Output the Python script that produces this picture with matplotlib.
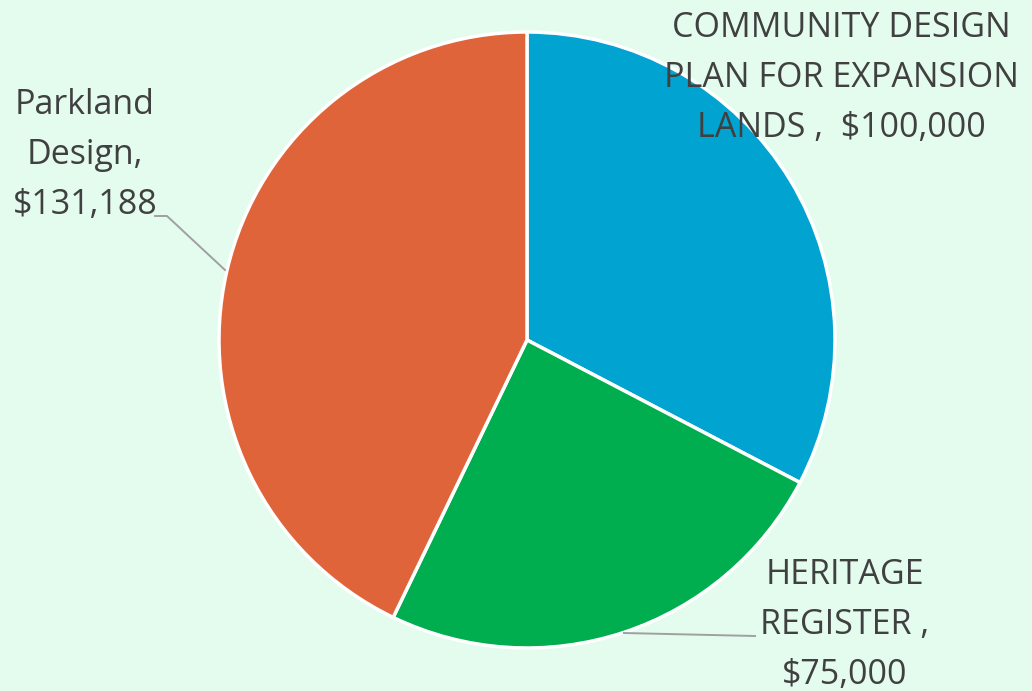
import matplotlib
matplotlib.use("Agg")
import matplotlib.pyplot as plt

# Budget allocation by project
categories = ["COMMUNITY DESIGN\nPLAN FOR EXPANSION\nLANDS ,  $100,000",
              "HERITAGE\nREGISTER ,\n$75,000",
              "Parkland\nDesign,\n$131,188"]
values = [100000, 75000, 131188]
colors = ["#01A3D1", "#00AE50", "#E0643A"]

W, H = 1032, 691
bg = "#E3FCEE"
text_color = "#404040"

fig = plt.figure(figsize=(W / 100, H / 100), dpi=100, facecolor=bg)
ax = fig.add_axes([0, 0, 1, 1])
ax.set_facecolor(bg)

cx, cy, r = 527, H - 340, 308
ax.pie(values, colors=colors, startangle=90, counterclock=False,
       center=(cx, cy), radius=r, frame=True,
       wedgeprops=dict(edgecolor="white", linewidth=2.5))
ax.set_xlim(0, W)
ax.set_ylim(0, H)
ax.set_aspect("equal")
ax.axis("off")

font = dict(family=["Open Sans", "DejaVu Sans"], fontsize=24.5, color=text_color,
            ha="center", va="center", multialignment="center", linespacing=1.6)

ax.text(841, H - 78, categories[0], **font)
ax.text(845, H - 625, categories[1], **font)
ax.text(85, H - 155, categories[2], **font)

# leader lines
ax.plot([155, 167, 225], [H - 216, H - 216, H - 270], color="#A0A0A0", lw=1.4)
ax.plot([624, 755], [H - 633, H - 636], color="#A0A0A0", lw=1.4)

fig.savefig("out.png", dpi=100, facecolor=bg)
